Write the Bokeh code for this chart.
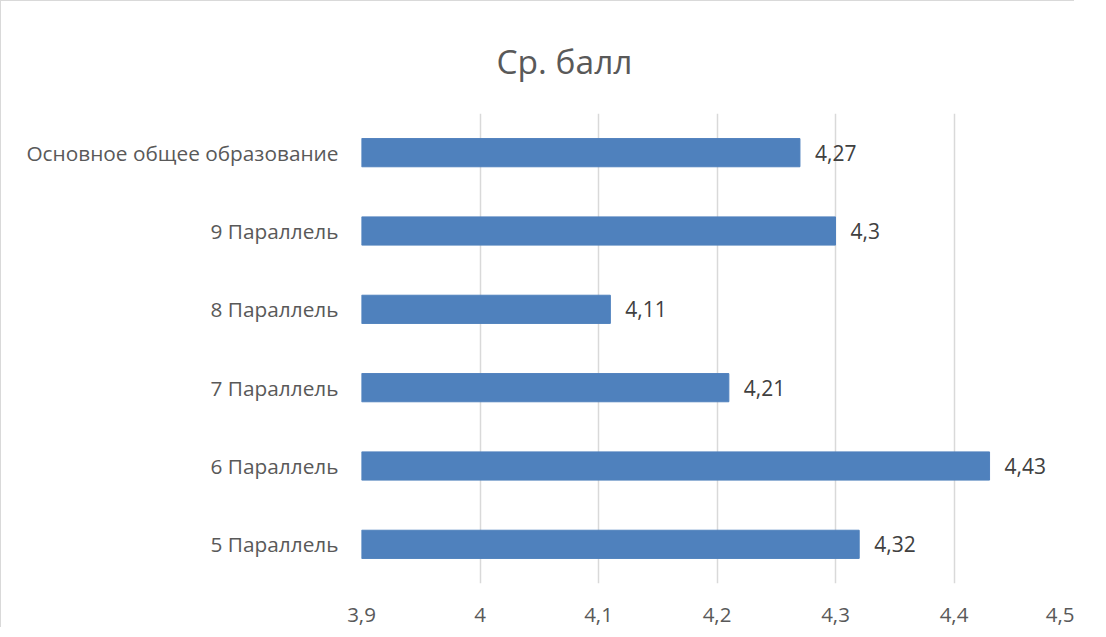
from bokeh.plotting import figure
from bokeh.models import FactorRange, FixedTicker, CustomJSTickFormatter, ColumnDataSource, Range1d
from bokeh.embed import file_html
from bokeh.resources import INLINE
from bokeh.core.properties import value

title_text = "Ср. балл"
categories = ["Основное общее образование", "9 Параллель", "8 Параллель",
              "7 Параллель", "6 Параллель", "5 Параллель"]
values = [4.27, 4.3, 4.11, 4.21, 4.43, 4.32]
x_ticks = [3.9, 4.0, 4.1, 4.2, 4.3, 4.4, 4.5]

FONT = "Open Sans"
labels = [str(v).replace(".", ",") for v in values]
src = ColumnDataSource(dict(cat=categories, val=values, lab=labels))

p = figure(y_range=FactorRange(factors=list(reversed(categories)), range_padding=0),
           x_range=Range1d(x_ticks[0], x_ticks[-1]),
           frame_width=711, frame_height=470,
           output_backend="svg", toolbar_location=None)
p.min_border_left = 360
p.min_border_top = 112
p.min_border_right = 2
p.min_border_bottom = 44
p.outline_line_color = None
p.background_fill_color = "white"
p.border_fill_color = "white"
p.styles = {"border-left": "1px solid #d9d9d9", "border-top": "1px solid #d9d9d9"}

p.title.text = title_text
p.title.align = "left"
p.title.offset = 135
p.title.standoff = 60
p.title.text_font = FONT
p.title.text_font_size = "33.5px"
p.title.text_font_style = "normal"
p.title.text_color = "#595959"

p.hbar(y="cat", right="val", left=x_ticks[0], height=0.36, source=src,
       fill_color="#4f81bd", line_color="#4f81bd")
p.text(x="val", y="cat", text="lab", source=src, x_offset=15,
       text_align="left", text_baseline="middle",
       text_font=value(FONT), text_font_size="21px", text_color="#404040")

p.xaxis.ticker = FixedTicker(ticks=x_ticks)
p.xaxis.formatter = CustomJSTickFormatter(code="return String(Math.round(tick*10)/10).replace('.', ',');")
p.xaxis.axis_line_color = None
p.xaxis.major_tick_line_color = None
p.xaxis.minor_tick_line_color = None
p.xaxis.major_label_standoff = 18
p.xaxis.major_label_text_font = FONT
p.xaxis.major_label_text_font_size = "20.5px"
p.xaxis.major_label_text_color = "#595959"

p.yaxis.axis_line_color = None
p.yaxis.major_tick_line_color = None
p.yaxis.minor_tick_line_color = None
p.yaxis.major_label_standoff = 17
p.yaxis.major_label_text_font = FONT
p.yaxis.major_label_text_font_size = "20.8px"
p.yaxis.major_label_text_color = "#595959"

p.ygrid.grid_line_color = None
p.xgrid.ticker = FixedTicker(ticks=x_ticks)
p.xgrid.grid_line_color = "#d9d9d9"
p.xgrid.grid_line_width = 1.5

open("out.html", "w").write(file_html(p, INLINE))
